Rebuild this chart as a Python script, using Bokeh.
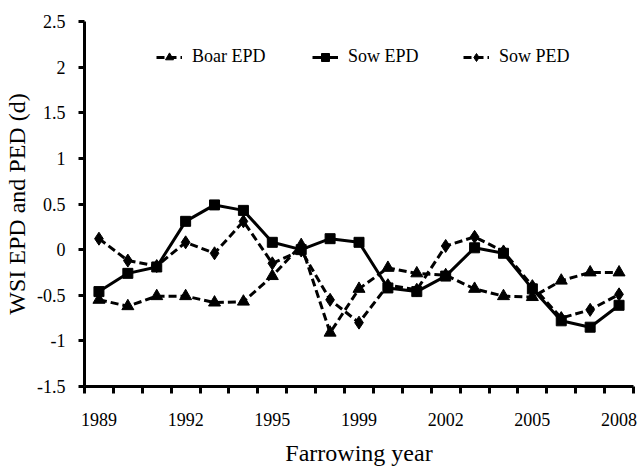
from bokeh.plotting import figure
from bokeh.models import Range1d, FixedTicker, Legend, LegendItem, NumeralTickFormatter
from bokeh.embed import file_html
from bokeh.resources import INLINE

# ---- data ----
years = ["1989", "1990", "1991", "1992", "1993", "1994", "1995", "1996", "1997",
         "1999", "2000", "2001", "2002", "2003", "2004", "2005", "2006", "2007", "2008"]
boar_epd = [-0.55, -0.62, -0.51, -0.51, -0.58, -0.57, -0.29, 0.05, -0.91, -0.43,
            -0.20, -0.26, -0.28, -0.43, -0.51, -0.52, -0.34, -0.25, -0.25]
sow_epd = [-0.46, -0.26, -0.19, 0.31, 0.49, 0.43, 0.08, 0.00, 0.12, 0.08,
           -0.42, -0.46, -0.29, 0.02, -0.04, -0.43, -0.78, -0.85, -0.61]
sow_ped = [0.12, -0.12, -0.18, 0.08, -0.04, 0.31, -0.15, -0.01, -0.55, -0.80,
           -0.39, -0.44, 0.04, 0.14, -0.02, -0.40, -0.75, -0.66, -0.49]
label_years = [0, 3, 6, 9, 12, 15, 18]
y_ticks = [-1.5, -1.0, -0.5, 0.0, 0.5, 1.0, 1.5, 2.0, 2.5]

FONT = "'Liberation Serif'"
x = list(range(len(years)))

p = figure(width=638, height=468, output_backend="svg", toolbar_location=None,
           x_range=Range1d(-0.5, len(years) - 0.5), y_range=Range1d(-1.5, 2.5),
           min_border_left=84, min_border_right=5, min_border_top=21, min_border_bottom=78)
p.outline_line_color = None
p.grid.visible = False
p.background_fill_color = "white"

boar_l = p.line(x, boar_epd, line_color="black", line_width=3, line_dash="8 4")
boar_m = p.scatter(x, boar_epd, marker="triangle", size=12, color="black")
sowe_l = p.line(x, sow_epd, line_color="black", line_width=3)
sowe_m = p.scatter(x, sow_epd, marker="square", size=10, color="black")
sowp_l = p.line(x, sow_ped, line_color="black", line_width=3, line_dash="8 4")
sowp_m = p.scatter(x, sow_ped, marker="diamond", size=13, color="black")

# x axis
xa = p.xaxis[0]
xa.ticker = FixedTicker(ticks=label_years, minor_ticks=[i - 0.5 for i in range(len(years) + 1)])
xa.major_label_overrides = {i: years[i] for i in label_years}
xa.major_tick_out = 0
xa.major_tick_in = 0
xa.minor_tick_out = 7
xa.minor_tick_in = 0
xa.minor_tick_line_width = 3
xa.minor_tick_line_color = "black"
xa.axis_line_width = 3
xa.axis_line_color = "black"
xa.major_label_text_font = FONT
xa.major_label_text_font_size = "18px"
xa.major_label_text_color = "black"
xa.major_label_standoff = 19
xa.axis_label = "Farrowing year"
xa.axis_label_text_font = FONT
xa.axis_label_text_font_size = "24px"
xa.axis_label_text_font_style = "normal"
xa.axis_label_text_color = "black"
xa.axis_label_standoff = 11

# y axis
ya = p.yaxis[0]
ya.ticker = FixedTicker(ticks=y_ticks, minor_ticks=[])
ya.formatter = NumeralTickFormatter(format="0.[0]")
ya.major_tick_out = 6
ya.major_tick_in = 0
ya.major_tick_line_width = 3
ya.major_tick_line_color = "black"
ya.axis_line_width = 3
ya.axis_line_color = "black"
ya.major_label_text_font = FONT
ya.major_label_text_font_size = "18px"
ya.major_label_text_color = "black"
ya.major_label_standoff = 13
ya.axis_label = "WSI EPD and PED (d)"
ya.axis_label_text_font = FONT
ya.axis_label_text_font_size = "24px"
ya.axis_label_text_font_style = "normal"
ya.axis_label_text_color = "black"
ya.axis_label_standoff = 4

# legends
for lab, rends, xloc in [("Boar EPD", [boar_l, boar_m], 72),
                         ("Sow EPD", [sowe_l, sowe_m], 228),
                         ("Sow PED", [sowp_l, sowp_m], 379)]:
    leg = Legend(items=[LegendItem(label=lab, renderers=rends)], location=(xloc, 319),
                 orientation="horizontal", border_line_color=None, background_fill_alpha=0,
                 padding=0, margin=0, spacing=0, glyph_width=26, glyph_height=20,
                 label_height=20, label_standoff=10, label_text_font=FONT,
                 label_text_font_size="18px", label_text_color="black")
    p.add_layout(leg)

open("out.html", "w").write(file_html(p, INLINE))
